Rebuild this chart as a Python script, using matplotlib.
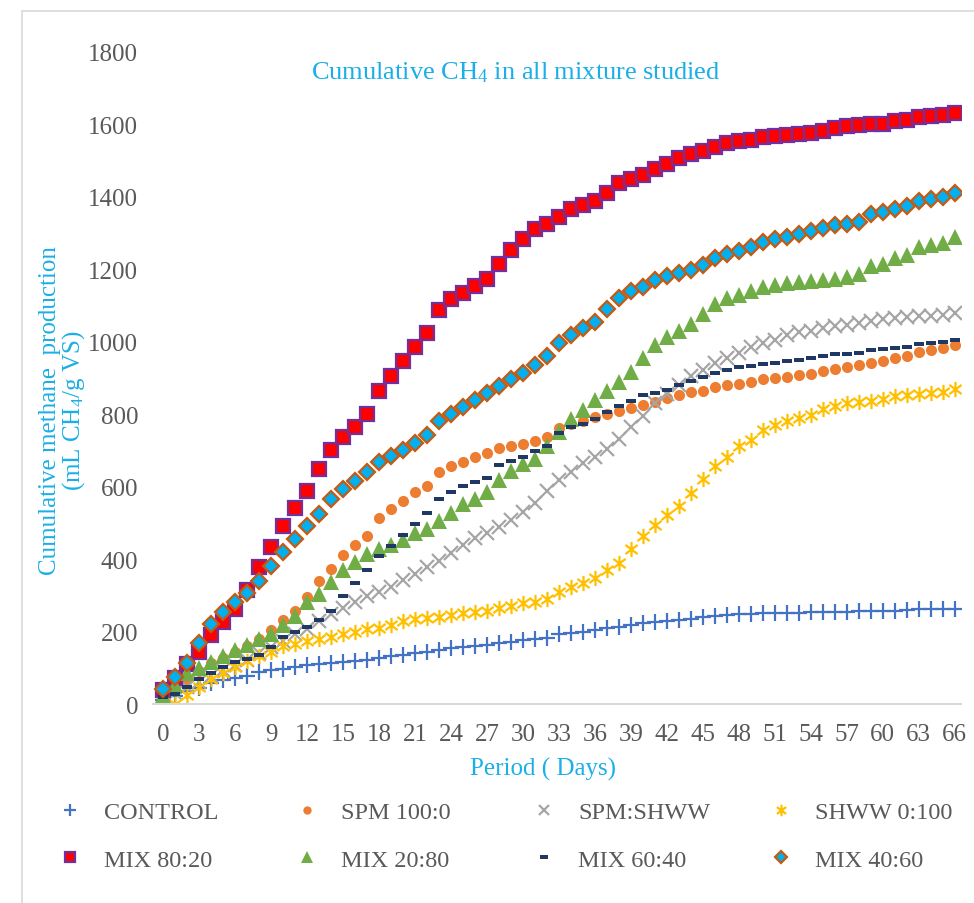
import matplotlib
matplotlib.use("Agg")
import matplotlib.pyplot as plt
from matplotlib.path import Path
from matplotlib.patches import Rectangle

plt.rcParams['font.family'] = ['Liberation Serif', 'DejaVu Serif']
plt.rcParams['mathtext.fontset'] = 'custom'
plt.rcParams['mathtext.rm'] = 'Liberation Serif'
plt.rcParams['mathtext.it'] = 'Liberation Serif:italic'

days = list(range(0, 67))

control = [12, 22, 35, 45, 58, 67, 72, 78, 88, 94,
           98, 103, 108, 111, 112, 116, 118, 121, 128, 132,
           135, 140, 143, 150, 155, 158, 161, 164, 168, 172,
           176, 179, 183, 192, 197, 200, 203, 209, 214, 218,
           223, 226, 229, 232, 235, 240, 244, 246, 248, 249,
           250, 250, 251, 252, 253, 253, 254, 255, 256, 257,
           258, 258, 260, 261, 261, 261, 261]
spm_100 = [18, 42, 68, 92, 112, 128, 145, 160, 180, 203,
           231, 257, 296, 341, 374, 411, 439, 463, 514, 537,
           561, 586, 602, 640, 657, 669, 681, 692, 707, 713,
           718, 727, 737, 762, 773, 781, 792, 802, 810, 818,
           826, 835, 845, 852, 860, 865, 876, 880, 884, 889,
           896, 901, 902, 907, 910, 918, 925, 929, 935, 941,
           948, 956, 962, 973, 977, 982, 991]
spm_shww = [15, 30, 48, 62, 78, 93, 108, 122, 140, 158,
            175, 192, 208, 228, 248, 265, 282, 298, 310, 322,
            342, 360, 378, 395, 418, 440, 457, 472, 490, 509,
            529, 555, 588, 618, 640, 664, 682, 704, 732, 766,
            795, 830, 855, 882, 906, 923, 942, 954, 968, 986,
            997, 1006, 1018, 1026, 1029, 1037, 1043, 1045, 1052, 1057,
            1064, 1066, 1068, 1072, 1072, 1075, 1080]
shww_100 = [0, 0, 26, 48, 69, 86, 101, 118, 132, 145,
            160, 165, 174, 180, 186, 194, 200, 206, 211, 219,
            230, 236, 238, 241, 245, 250, 254, 258, 265, 271,
            278, 282, 290, 310, 322, 335, 349, 370, 390, 427,
            465, 494, 521, 547, 582, 622, 658, 682, 712, 728,
            757, 769, 780, 789, 799, 815, 822, 830, 833, 836,
            841, 849, 852, 856, 858, 862, 870]
mix_80_20 = [38, 72, 110, 145, 190, 226, 262, 315, 378, 433,
             492, 541, 588, 649, 701, 737, 765, 800, 863, 905,
             947, 985, 1024, 1088, 1118, 1135, 1153, 1174, 1216, 1252,
             1283, 1312, 1325, 1345, 1366, 1377, 1389, 1412, 1437, 1450,
             1461, 1478, 1492, 1506, 1518, 1527, 1539, 1548, 1553, 1557,
             1564, 1567, 1571, 1573, 1576, 1582, 1590, 1596, 1599, 1600,
             1602, 1609, 1613, 1621, 1624, 1626, 1631]
mix_20_80 = [25, 52, 85, 100, 116, 133, 150, 162, 180, 192,
             218, 243, 282, 304, 337, 370, 392, 413, 428, 440,
             452, 472, 484, 506, 528, 551, 565, 586, 619, 644,
             662, 677, 711, 750, 786, 813, 839, 865, 890, 917,
             955, 992, 1013, 1031, 1049, 1076, 1105, 1120, 1130, 1140,
             1150, 1156, 1161, 1165, 1167, 1170, 1173, 1178, 1187, 1208,
             1216, 1230, 1239, 1262, 1268, 1274, 1288]
mix_60_40 = [19, 28, 47, 68, 86, 102, 116, 124, 135, 157,
             185, 198, 212, 232, 258, 297, 335, 369, 410, 437,
             466, 496, 526, 567, 586, 601, 613, 625, 660, 670,
             681, 698, 712, 749, 764, 774, 786, 806, 823, 836,
             852, 859, 867, 881, 891, 902, 915, 921, 929, 933,
             939, 942, 947, 950, 954, 962, 967, 967, 970, 976,
             979, 983, 985, 994, 997, 999, 1005]
mix_40_60 = [41, 74, 112, 168, 221, 255, 281, 307, 339, 380,
             420, 456, 491, 525, 567, 593, 616, 641, 668, 685,
             701, 720, 742, 780, 800, 821, 838, 859, 878, 896,
             913, 937, 960, 997, 1020, 1037, 1054, 1091, 1121, 1141,
             1152, 1170, 1181, 1190, 1198, 1212, 1230, 1242, 1250, 1262,
             1276, 1285, 1288, 1297, 1306, 1314, 1322, 1325, 1331, 1352,
             1357, 1366, 1375, 1389, 1394, 1400, 1410]

# excel-like marker shapes
star = Path([(0, -1), (0, 1), (-0.8, -0.6), (0.8, 0.6), (-0.8, 0.6), (0.8, -0.6)],
            [Path.MOVETO, Path.LINETO] * 3)
dash = Path([(-1, -0.42), (1, -0.42), (1, 0.42), (-1, 0.42), (-1, -0.42)],
            [Path.MOVETO, Path.LINETO, Path.LINETO, Path.LINETO, Path.CLOSEPOLY])

blue_txt = '#1AAFE6'
grey_txt = '#595959'
fs = 18

fig = plt.figure(figsize=(9.74, 9.04), dpi=100)
ax = fig.add_axes([0.1575, 0.2201, 0.829, 0.7213])

h = []
h += ax.plot(days, control, ls='none', marker='+', ms=11, mew=1.6, color='#4472C4', label='CONTROL')
h += ax.plot(days, spm_100, ls='none', marker='o', ms=8, mew=0, color='#ED7D31', label='SPM 100:0')
h += ax.plot(days, spm_shww, ls='none', marker='x', ms=10, mew=1.6, color='#A5A5A5', label='SPM:SHWW')
h += ax.plot(days, shww_100, ls='none', marker=star, ms=11, mew=1.6, mfc='none', color='#FFC000', label='SHWW 0:100')
h += ax.plot(days, mix_80_20, ls='none', marker='s', ms=10, mew=1.6, mfc='#FF0000', mec='#7030A0', label='MIX 80:20')
h += ax.plot(days, mix_20_80, ls='none', marker='^', ms=11, mew=0, color='#70AD47', label='MIX 20:80')
h += ax.plot(days, mix_60_40, ls='none', marker=dash, ms=7, mew=0, color='#203864', label='MIX 60:40')
h += ax.plot(days, mix_40_60, ls='none', marker='D', ms=8, mew=1.6, mfc='#00B0F0', mec='#C55A11', label='MIX 40:60')

ax.set_xlim(-0.8, 66.5)
ax.set_ylim(0, 1800)
ax.set_xticks(range(0, 67, 3))
ax.set_yticks(range(0, 1801, 200))
ax.tick_params(length=0, labelsize=fs, labelcolor=grey_txt)
ax.tick_params(axis='x', pad=14)
ax.tick_params(axis='y', pad=11)
for s in ['top', 'right', 'left']:
    ax.spines[s].set_visible(False)
ax.spines['bottom'].set_color('#D9D9D9')
ax.spines['bottom'].set_linewidth(1.5)

ax.set_title('Cumulative CH$_{\\mathrm{4}}$ in all mixture studied', color=blue_txt, fontsize=19,
             x=0.449, y=0.947)
ax.set_xlabel('Period ( Days)', color=blue_txt, fontsize=fs)
ax.xaxis.set_label_coords(0.482, -0.081)
ax.xaxis.label.set_va('top')
ax.set_ylabel('Cumulative methane  production\n(mL CH$_{\\mathrm{4}}$/g VS)', color=blue_txt,
              fontsize=fs, va='center', linespacing=1.0)
ax.yaxis.set_label_coords(-0.112, 0.452)

# legend: one block per column so columns sit on an even grid
for c in range(4):
    leg = fig.legend(handles=h[c::4], loc='upper left',
                     bbox_to_anchor=((58 + 237 * c) / 974, 1 - 802 / 904),
                     frameon=False, fontsize=17.5, handlelength=1.0, handletextpad=0.9,
                     labelspacing=1.06, borderpad=0, borderaxespad=0, markerscale=0.75)
    for t in leg.get_texts():
        t.set_color(grey_txt)

fig.add_artist(Rectangle((22 / 974, -0.05), 1.1, 1.05 - 12 / 904, transform=fig.transFigure,
                         fill=False, edgecolor='#D9D9D9', lw=1.2))

fig.savefig('out.png', dpi=100)
